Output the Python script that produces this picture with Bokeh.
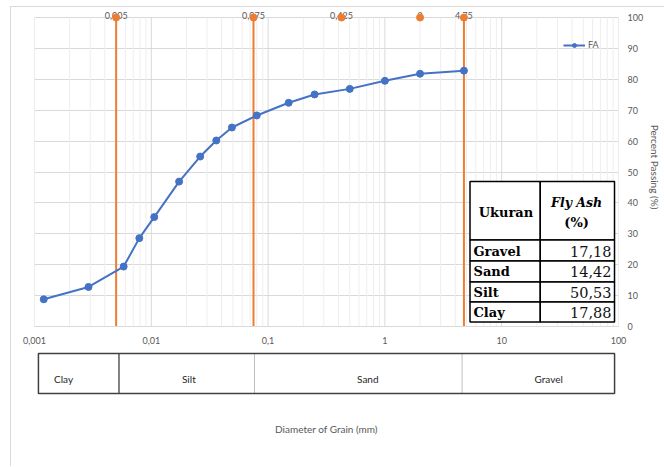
import math
from bokeh.plotting import figure
from bokeh.models import Range1d, FixedTicker, Legend, LegendItem
from bokeh.layouts import column
from bokeh.core.properties import value
from bokeh.embed import file_html
from bokeh.resources import INLINE

# ---------------- data ----------------
series_name = "FA"
grain_size_mm = [0.0012, 0.0029, 0.0058, 0.0079, 0.0106, 0.0173, 0.0262, 0.036,
                 0.049, 0.08, 0.15, 0.25, 0.5, 1.0, 2.0, 4.75]
percent_passing = [8.8, 12.8, 19.4, 28.6, 35.4, 46.9, 55.0, 60.2,
                   64.4, 68.3, 72.4, 75.1, 76.9, 79.5, 81.8, 82.8]

boundary_sizes = [0.005, 0.075, 0.425, 2.0, 4.75]
boundary_labels = ["0,005", "0,075", "0,425", "2", "4,75"]
boundary_top = [100, 100, 100, 100, 100]
boundary_lines = [0.005, 0.075, 4.75]

x_ticks = [0.001, 0.01, 0.1, 1, 10, 100]
x_tick_labels = ["0,001", "0,01", "0,1", "1", "10", "100"]
y_ticks = [0, 10, 20, 30, 40, 50, 60, 70, 80, 90, 100]

class_names = ["Clay", "Silt", "Sand", "Gravel"]
class_edges = [0.001, 0.005, 0.075, 4.75, 100]

table_header = ["Ukuran", "Fly Ash", "(%)"]
table_rows = ["Gravel", "Sand", "Silt", "Clay"]
table_values = ["17,18", "14,42", "50,53", "17,88"]

# ---------------- style / layout ----------------
FONT_NAME = "Lato"
FONT = value("Lato")
SERIF = value("DejaVu Serif")
GRAY = "#595959"
BLUE = "#4472C4"
ORANGE = "#ED7D31"

OX, OY = 11, 7              # page position of the figures (after border)
W = 653
H1 = 341
H2 = 118
PX_LEFT = 34                # page x of frame left (0.001)
PX_RIGHT = 620              # page x of frame right (100)
PY_ZERO = 326               # page y of 0 %
PY_100 = 17                 # page y of 100 %
FL = PX_LEFT - OX
FR = OX + W - PX_RIGHT
DEC = (PX_RIGHT - PX_LEFT) / 5.0
PX_PER_UNIT = (PY_ZERO - PY_100) / 100.0
FRAME_H = PY_ZERO - OY


def xd(px):
    return 10 ** (-3 + (px - PX_LEFT) / DEC)


def yd(py):
    return (PY_ZERO - py) / PX_PER_UNIT


p = figure(width=W, height=H1, x_axis_type="log",
           x_range=Range1d(0.001, 100), y_range=Range1d(0, FRAME_H / PX_PER_UNIT),
           y_axis_location="right", output_backend="svg", toolbar_location=None,
           min_border_left=FL, min_border_right=FR, min_border_top=0,
           min_border_bottom=H1 - FRAME_H, outline_line_color=None, title=None)
p.background_fill_color = "white"
p.border_fill_color = "white"

p.xgrid.visible = False
p.ygrid.ticker = FixedTicker(ticks=y_ticks)
p.ygrid.grid_line_color = "#d9d9d9"

# vertical grid (log decades and minor lines), limited to 0..100 %
minor_x = [k * 10 ** d for d in range(-3, 2) for k in range(2, 10)]
p.segment(x0=minor_x, y0=[0] * len(minor_x), x1=minor_x, y1=[100] * len(minor_x),
          line_color="#eeeeee", line_width=1)
p.segment(x0=x_ticks, y0=[0] * len(x_ticks), x1=x_ticks, y1=[100] * len(x_ticks),
          line_color="#d9d9d9", line_width=1)

xa = p.xaxis[0]
xa.ticker = FixedTicker(ticks=x_ticks, minor_ticks=[])
xa.major_label_overrides = dict(zip(x_ticks, x_tick_labels))
xa.axis_line_color = "#d9d9d9"
xa.major_tick_line_color = None
xa.minor_tick_line_color = None
xa.major_tick_out = 0
xa.major_tick_in = 0
xa.minor_tick_out = 0
xa.major_label_standoff = 10
xa.major_label_text_font = FONT_NAME
xa.major_label_text_font_size = "9px"
xa.major_label_text_color = GRAY

ya = p.yaxis[0]
ya.ticker = FixedTicker(ticks=y_ticks)
ya.bounds = (0, 100)
ya.axis_line_color = None
ya.major_tick_line_color = None
ya.minor_tick_line_color = None
ya.major_tick_out = 0
ya.major_tick_in = 0
ya.minor_tick_out = 0
ya.major_label_standoff = 9
ya.major_label_text_font = FONT_NAME
ya.major_label_text_font_size = "9px"
ya.major_label_text_color = GRAY
ya.axis_label = "Percent Passing (%)"
ya.axis_label_text_font = FONT_NAME
ya.axis_label_text_font_size = "10px"
ya.axis_label_text_font_style = "normal"
ya.axis_label_text_color = GRAY
ya.axis_label_standoff = 3

# boundary lines and markers
p.segment(x0=boundary_lines, y0=[0] * len(boundary_lines), x1=boundary_lines,
          y1=[100] * len(boundary_lines), line_color=ORANGE, line_width=2)
p.text(x=boundary_sizes, y=boundary_top, text=boundary_labels, text_font=FONT,
       text_font_size="9px", text_color=GRAY, text_align="center",
       text_baseline="middle", y_offset=-2)
p.scatter(x=boundary_sizes, y=boundary_top, size=7, marker="circle",
          fill_color=ORANGE, line_color=ORANGE)

# grain size curve
r_line = p.line(grain_size_mm, percent_passing, line_color=BLUE, line_width=2)
r_pts = p.scatter(grain_size_mm, percent_passing, size=7, marker="circle",
                  fill_color=BLUE, line_color=BLUE)

leg_x = 563 - PX_LEFT
leg_y = FRAME_H - (45 - OY) - 5
legend = Legend(items=[LegendItem(label=series_name, renderers=[r_line, r_pts])],
                location=(leg_x, leg_y), padding=0, margin=0, spacing=0,
                border_line_color=None, background_fill_alpha=0,
                glyph_width=22, glyph_height=10, label_height=10,
                label_standoff=3, label_text_font=FONT_NAME,
                label_text_font_size="9px", label_text_color=GRAY)
p.add_layout(legend)

# table
tx0, tx1, tx2 = xd(471), xd(541.5), xd(616)
ty = [yd(181), yd(239.5), yd(260.5), yd(281.5), yd(301.5), yd(321.5)]
p.quad(left=[tx0, tx1], right=[tx1, tx2], top=[ty[0], ty[0]], bottom=[ty[1], ty[1]],
       fill_color="white", line_color="black", line_width=1.5)
p.quad(left=[tx0] * 4 + [tx1] * 4, right=[tx1] * 4 + [tx2] * 4,
       top=ty[1:5] * 2, bottom=ty[2:6] * 2,
       fill_color="white", line_color="black", line_width=1.5)
p.text(x=[xd(507)], y=[yd(212)], text=[table_header[0]], text_font=SERIF,
       text_font_size="13px", text_font_style="bold", text_color="black",
       text_align="center", text_baseline="middle")
p.text(x=[xd(578)], y=[yd(202)], text=[table_header[1]], text_font=SERIF,
       text_font_size="12.5px", text_font_style="bold italic", text_color="black",
       text_align="center", text_baseline="middle")
p.text(x=[xd(578)], y=[yd(222)], text=[table_header[2]], text_font=SERIF,
       text_font_size="13px", text_font_style="bold", text_color="black",
       text_align="center", text_baseline="middle")
row_y = [yd(251), yd(271), yd(291.5), yd(311.5)]
p.text(x=[xd(474.5)] * 4, y=row_y, text=table_rows, text_font=SERIF,
       text_font_size="13px", text_font_style="bold", text_color="black",
       text_align="left", text_baseline="middle")
p.text(x=[xd(613)] * 4, y=row_y, text=table_values, text_font=SERIF,
       text_font_size="14.5px", text_color="#111111",
       text_align="right", text_baseline="middle")

# ---------------- classification strip ----------------
pad = 4
top2 = OY + H1              # page y of the strip figure top
p2 = figure(width=W, height=H2, x_axis_type="log",
            x_range=Range1d(10 ** (-3 - pad / DEC), 10 ** (2 + pad / DEC)),
            y_range=Range1d(-0.1, 1.1), y_axis_location=None,
            output_backend="svg", toolbar_location=None,
            min_border_left=FL - pad, min_border_right=FR - pad,
            min_border_top=349 - top2, min_border_bottom=H2 - (397 - top2),
            outline_line_color=None, title=None)
p2.grid.visible = False
xb = p2.xaxis[0]
xb.ticker = FixedTicker(ticks=[], minor_ticks=[])
xb.axis_line_color = None
xb.major_tick_line_color = None
xb.minor_tick_line_color = None
xb.major_tick_out = 0
xb.major_tick_in = 0
xb.minor_tick_out = 0
xb.major_label_text_font_size = "0px"
xb.major_label_standoff = 0
xb.axis_label = "Diameter of Grain (mm)"
xb.axis_label_text_font = FONT_NAME
xb.axis_label_text_font_size = "10px"
xb.axis_label_text_font_style = "normal"
xb.axis_label_text_color = GRAY
xb.axis_label_standoff = 25

p2.segment(x0=class_edges[1:-1], y0=[0] * 3, x1=class_edges[1:-1], y1=[1] * 3,
           line_color=["#595959", "#bfbfbf", "#bfbfbf"], line_width=[1.5, 1, 1])
p2.quad(left=[class_edges[0]], right=[class_edges[-1]], bottom=[0], top=[1],
        fill_color=None, line_color="#404040", line_width=1.5)
class_x = [xd(59.6), xd(187), xd(369), xd(553)]
p2.text(x=class_x, y=[0.37] * 4, text=class_names, text_font=FONT,
        text_font_size="10px", text_color="#262626", text_align="center",
        text_baseline="middle")

layout = column(p, p2, spacing=0, margin=(OY - 1, 0, 0, OX - 1),
                styles={"border-left": "1px solid #d9d9d9",
                        "border-top": "1px solid #d9d9d9"})

open("out.html", "w").write(file_html(layout, INLINE))
